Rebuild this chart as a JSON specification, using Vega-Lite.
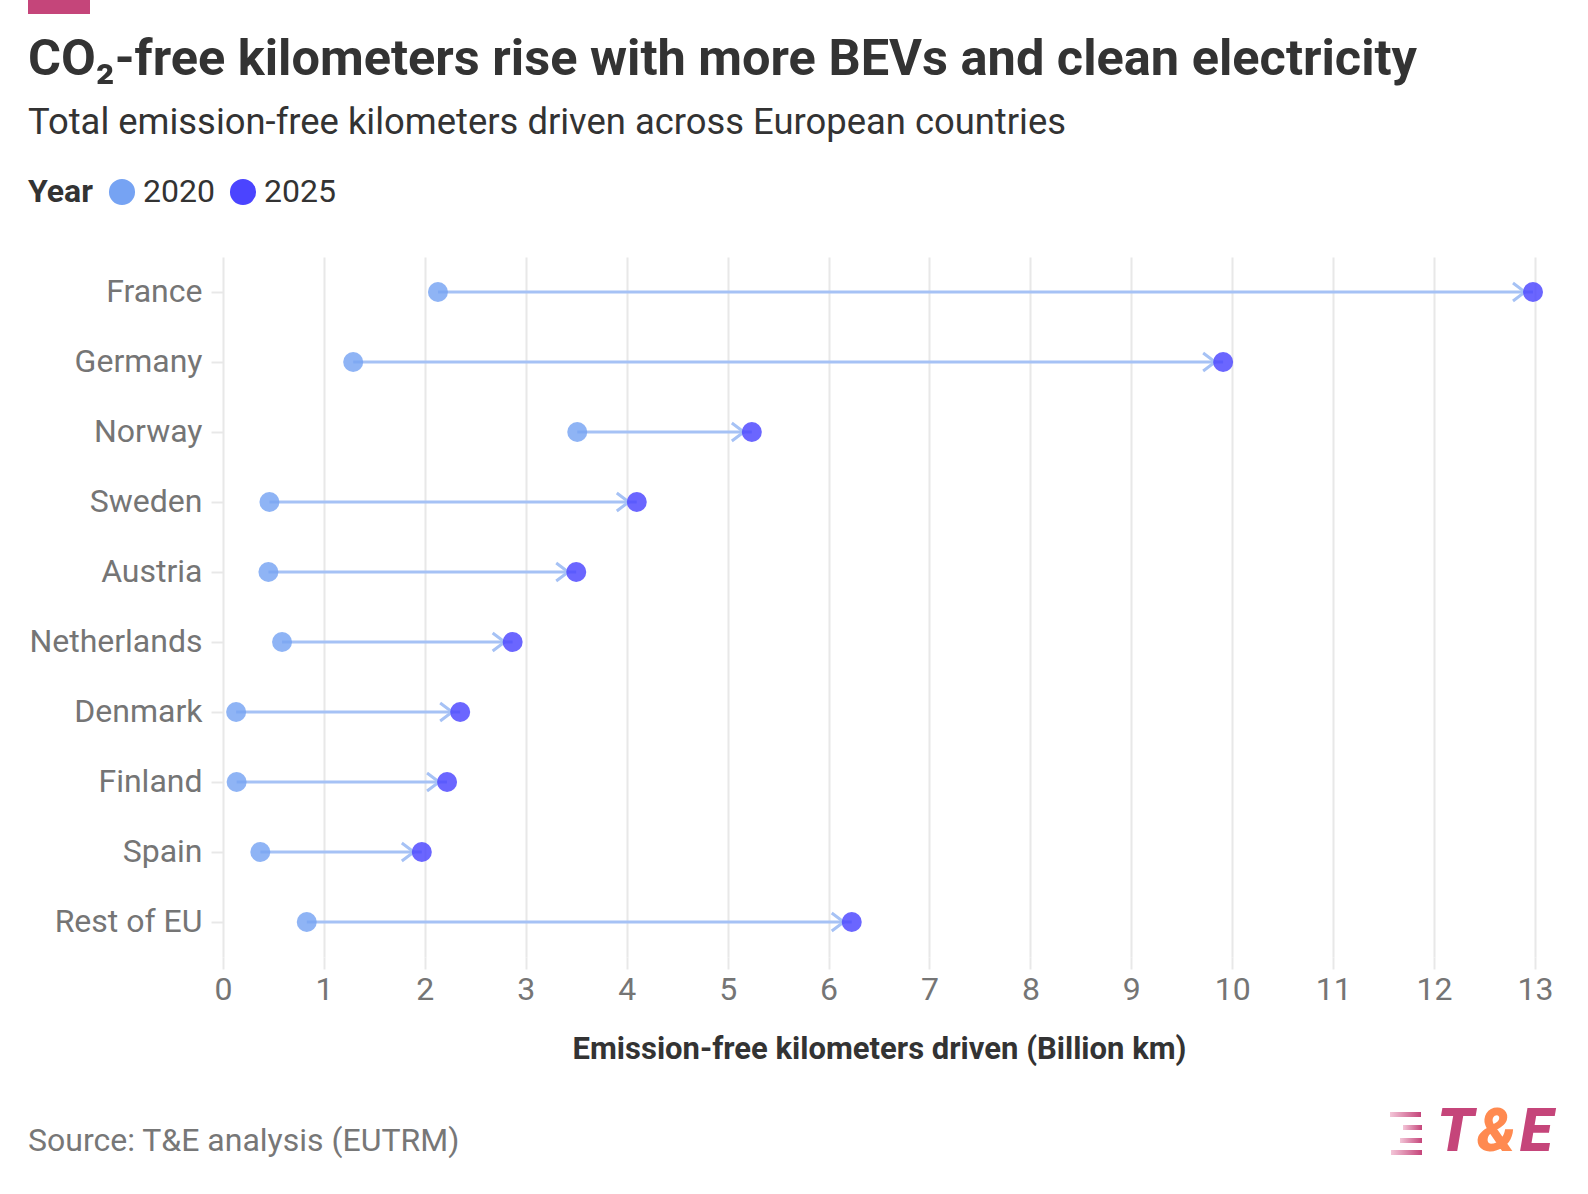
{
  "$schema": "https://vega.github.io/schema/vega-lite/v6.json",
  "autosize": {"type": "none"},
  "width": 1312,
  "height": 700,
  "padding": {"left": 223, "top": 257, "right": 53, "bottom": 237},
  "background": "white",
  "config": {
    "font": "Roboto",
    "view": {"stroke": null}
  },
  "datasets": {
    "km": [
      {"country": "France", "y2020": 2.13, "y2025": 12.98},
      {"country": "Germany", "y2020": 1.29, "y2025": 9.91},
      {"country": "Norway", "y2020": 3.51, "y2025": 5.24},
      {"country": "Sweden", "y2020": 0.46, "y2025": 4.10},
      {"country": "Austria", "y2020": 0.45, "y2025": 3.50},
      {"country": "Netherlands", "y2020": 0.585, "y2025": 2.87},
      {"country": "Denmark", "y2020": 0.13, "y2025": 2.35},
      {"country": "Finland", "y2020": 0.135, "y2025": 2.22},
      {"country": "Spain", "y2020": 0.37, "y2025": 1.97},
      {"country": "Rest of EU", "y2020": 0.83, "y2025": 6.23}
    ]
  },
  "layer": [
    {
      "data": {"name": "km"},
      "mark": {"type": "rule", "color": "#a6c2f5", "strokeWidth": 3},
      "encoding": {
        "y": {
          "field": "country", "type": "nominal",
          "sort": ["France", "Germany", "Norway", "Sweden", "Austria", "Netherlands", "Denmark", "Finland", "Spain", "Rest of EU"],
          "scale": {"paddingInner": 0, "paddingOuter": 0},
          "axis": {
            "title": null, "domain": false, "grid": false,
            "ticks": true, "tickColor": "#e8e8e8", "tickSize": 12, "tickWidth": 2,
            "labelFont": "Roboto", "labelFontSize": 32, "labelColor": "#757575", "labelPadding": 9
          }
        },
        "x": {
          "field": "y2020", "type": "quantitative",
          "scale": {"domain": [0, 13], "nice": false},
          "axis": {
            "title": "Emission-free kilometers driven (Billion km)",
            "titleFont": "Roboto", "titleFontSize": 31, "titleFontWeight": "bold", "titleColor": "#333333", "titlePadding": 29,
            "values": [0,1,2,3,4,5,6,7,8,9,10,11,12,13], "format": "d", "labelFlush": false, "labelOverlap": false,
            "domain": false, "grid": true, "gridColor": "#e8e8e8", "gridWidth": 2,
            "ticks": true, "tickColor": "#e8e8e8", "tickSize": 12, "tickWidth": 2,
            "labelFont": "Roboto", "labelFontSize": 32, "labelColor": "#757575", "labelPadding": 5
          }
        },
        "x2": {"field": "y2025"}
      }
    },
    {
      "data": {"name": "km"},
      "mark": {"type": "point", "shape": "M-1,-0.45L-0.4,0L-1,0.45", "filled": false, "size": 1600, "stroke": "#a6c2f5", "strokeWidth": 3, "opacity": 1},
      "encoding": {
        "y": {"field": "country", "type": "nominal", "sort": ["France", "Germany", "Norway", "Sweden", "Austria", "Netherlands", "Denmark", "Finland", "Spain", "Rest of EU"]},
        "x": {"field": "y2025", "type": "quantitative"}
      }
    },
    {
      "data": {"name": "km"},
      "transform": [
        {"fold": ["y2020", "y2025"], "as": ["key", "value"]},
        {"lookup": "key", "from": {"data": {"values": [{"key": "y2020", "Year": "2020"}, {"key": "y2025", "Year": "2025"}]}, "key": "key", "fields": ["Year"]}}
      ],
      "mark": {"type": "point", "shape": "circle", "filled": true, "size": 400, "opacity": 0.82},
      "encoding": {
        "y": {"field": "country", "type": "nominal", "sort": ["France", "Germany", "Norway", "Sweden", "Austria", "Netherlands", "Denmark", "Finland", "Spain", "Rest of EU"]},
        "x": {"field": "value", "type": "quantitative"},
        "color": {
          "field": "Year", "type": "nominal",
          "scale": {"domain": ["2020", "2025"], "range": ["#76a3f3", "#4b44ff"]},
          "legend": {
            "orient": "none", "legendX": -195, "legendY": -81, "direction": "horizontal",
            "title": "Year", "titleOrient": "left", "titleFont": "Roboto", "titleFontSize": 32, "titleFontWeight": "bold", "titleColor": "#333333", "titlePadding": 13,
            "labelFont": "Roboto", "labelFontSize": 32, "labelColor": "#333333", "labelOffset": 5,
            "symbolType": "circle", "symbolSize": 680, "symbolOpacity": 1, "symbolStrokeWidth": 0,
            "columnPadding": 12
          }
        }
      }
    },
    {
      "data": {"values": [{}]},
      "mark": {"type": "rect", "color": "#c5457a"},
      "encoding": {"x": {"value": -195}, "x2": {"value": -133}, "y": {"value": -257}, "y2": {"value": -243}}
    },
    {
      "data": {"values": [{}]},
      "mark": {"type": "text", "text": "CO₂-free kilometers rise with more BEVs and clean electricity", "align": "left", "baseline": "alphabetic", "font": "Roboto", "fontSize": 50.5, "fontWeight": "bold", "color": "#333333"},
      "encoding": {"x": {"value": -195}, "y": {"value": -182}}
    },
    {
      "data": {"values": [{}]},
      "mark": {"type": "text", "text": "Total emission-free kilometers driven across European countries", "align": "left", "baseline": "alphabetic", "font": "Roboto", "fontSize": 36.4, "color": "#333333"},
      "encoding": {"x": {"value": -195}, "y": {"value": -123}}
    },
    {
      "data": {"values": [{}]},
      "mark": {"type": "text", "text": "Source: T&E analysis (EUTRM)", "align": "left", "baseline": "middle", "font": "Roboto", "fontSize": 32, "color": "#777777"},
      "encoding": {"x": {"value": -195}, "y": {"value": 884}}
    },
    {
      "data": {"values": [{}]},
      "mark": {"type": "text", "text": "T", "align": "left", "baseline": "middle", "font": "Roboto", "fontSize": 60, "fontWeight": 900, "fontStyle": "italic", "color": "#c5457a"},
      "encoding": {"x": {"value": 1214}, "y": {"value": 876}}
    },
    {
      "data": {"values": [{}]},
      "mark": {"type": "text", "text": "&", "align": "left", "baseline": "middle", "font": "Roboto", "fontSize": 60, "fontWeight": 900, "fontStyle": "italic", "color": "#ff8a50"},
      "encoding": {"x": {"value": 1254}, "y": {"value": 876}}
    },
    {
      "data": {"values": [{}]},
      "mark": {"type": "text", "text": "E", "align": "left", "baseline": "middle", "font": "Roboto", "fontSize": 60, "fontWeight": 900, "fontStyle": "italic", "color": "#c5457a"},
      "encoding": {"x": {"value": 1297}, "y": {"value": 876}}
    },
    {
      "data": {"values": [{}]},
      "mark": {"type": "rect", "color": {"gradient": "linear", "x1": 0, "x2": 1, "y1": 0, "y2": 0, "stops": [{"offset": 0, "color": "#f3c6d8"}, {"offset": 1, "color": "#c5457a"}]}},
      "encoding": {"x": {"value": 1167}, "x2": {"value": 1198}, "y": {"value": 855}, "y2": {"value": 860}}
    },
    {
      "data": {"values": [{}]},
      "mark": {"type": "rect", "color": {"gradient": "linear", "x1": 0, "x2": 1, "y1": 0, "y2": 0, "stops": [{"offset": 0, "color": "#f3c6d8"}, {"offset": 1, "color": "#c5457a"}]}},
      "encoding": {"x": {"value": 1180}, "x2": {"value": 1199}, "y": {"value": 868}, "y2": {"value": 873}}
    },
    {
      "data": {"values": [{}]},
      "mark": {"type": "rect", "color": {"gradient": "linear", "x1": 0, "x2": 1, "y1": 0, "y2": 0, "stops": [{"offset": 0, "color": "#f3c6d8"}, {"offset": 1, "color": "#c5457a"}]}},
      "encoding": {"x": {"value": 1177}, "x2": {"value": 1199}, "y": {"value": 881}, "y2": {"value": 886}}
    },
    {
      "data": {"values": [{}]},
      "mark": {"type": "rect", "color": {"gradient": "linear", "x1": 0, "x2": 1, "y1": 0, "y2": 0, "stops": [{"offset": 0, "color": "#f3c6d8"}, {"offset": 1, "color": "#c5457a"}]}},
      "encoding": {"x": {"value": 1168}, "x2": {"value": 1199}, "y": {"value": 893}, "y2": {"value": 898}}
    }
  ]
}
